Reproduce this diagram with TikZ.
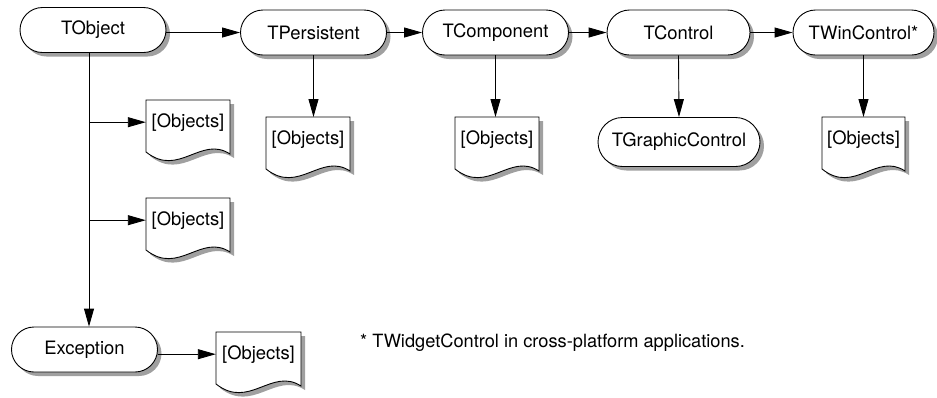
\documentclass[tikz,border=0pt]{standalone}
\usepackage{fontspec}
\setmainfont{TeX Gyre Heros}
\usetikzlibrary{shapes.misc,shadows,arrows.meta}
\definecolor{shadowgray}{HTML}{A0A0A0}
\tikzset{
  cls/.style={rounded rectangle, draw=black, line width=0.9bp, fill=white,
    minimum width=146bp, minimum height=45bp, inner sep=0pt,
    font=\fontsize{18.5}{21}\selectfont,
    drop shadow={shadow xshift=4bp, shadow yshift=-4bp, fill=shadowgray, opacity=1}},
  objtext/.style={anchor=north, minimum height=44bp, inner sep=0pt,
    font=\fontsize{18.5}{21}\selectfont},
  arr/.style={line width=0.9bp, -{Triangle[length=18bp,width=10bp]}},
  docline/.style={draw=black, line width=0.9bp, fill=white},
  docshadow/.style={fill=shadowgray},
  note/.style={anchor=base west, inner sep=0pt, font=\fontsize{18.3}{21}\selectfont}
}
% #1 name, #2 x, #3 y (top-left), #4 width
\newcommand\objdoc[4]{%
  \begin{scope}[shift={(#2,#3)}]
    \path[docshadow] (4,4) -- (#4+4,4) -- (#4+4,58)
      .. controls (#4*0.655+4,39) and (#4*0.39+4,82) .. (4,56) -- cycle;
    \path[docline] (0,0) -- (#4,0) -- (#4,54)
      .. controls (#4*0.655,35) and (#4*0.39,78) .. (0,52) -- cycle;
  \end{scope}
  \node[objtext, minimum width=#4bp] (#1) at (#2+#4/2,#3) {[Objects]};
}
\begin{document}
\begin{tikzpicture}[x=1bp,y=-1bp]
\useasboundingbox (0,0) rectangle (937,397);
% class nodes
\node[cls] (tobj) at (93,30) {TObject};
\node[cls] (tpers) at (313.5,32.5) {TPersistent};
\node[cls] (tcomp) at (495.5,32.5) {TComponent};
\node[cls, minimum width=143bp] (tctrl) at (678.5,32.5) {TControl};
\node[cls, minimum width=141bp] (twin) at (863.5,32.5) {TWinControl*};
\node[cls, minimum width=162bp, minimum height=49bp] (tgraph) at (679,142) {TGraphicControl};
\node[cls] (exc) at (84.5,349.5) {Exception};
% documents
\objdoc{d1}{146}{100}{84}
\objdoc{d2}{146}{198}{84}
\objdoc{d3}{266}{117}{84}
\objdoc{d4}{455}{117}{84}
\objdoc{d5}{822}{117}{83}
\objdoc{d6}{216}{332}{85}
% trunk
\coordinate (trunk) at (89,52);
% connectors
\draw[arr] (tobj.east |- tpers.west) -- (tpers.west);
\draw[arr] (tpers.east) -- (tcomp.west);
\draw[arr] (tcomp.east) -- (tctrl.west);
\draw[arr] (tctrl.east) -- (twin.west);
\draw[arr] (trunk) -- (trunk |- exc.north);
\draw[arr] (trunk |- d1.west) -- (d1.west);
\draw[arr] (trunk |- d2.west) -- (d2.west);
\draw[arr] (tpers.south) -- (tpers.south |- d3.north);
\draw[arr] (tcomp.south) -- (tcomp.south |- d4.north);
\draw[arr] (tctrl.south) -- (tgraph.north);
\draw[arr] (twin.south) -- (twin.south |- d5.north);
\draw[arr] (exc.east |- d6.west) -- (d6.west);
% footnote
\node[note] (fn) at (360,347) {* TWidgetControl in cross-platform applications.};
\end{tikzpicture}
\end{document}
